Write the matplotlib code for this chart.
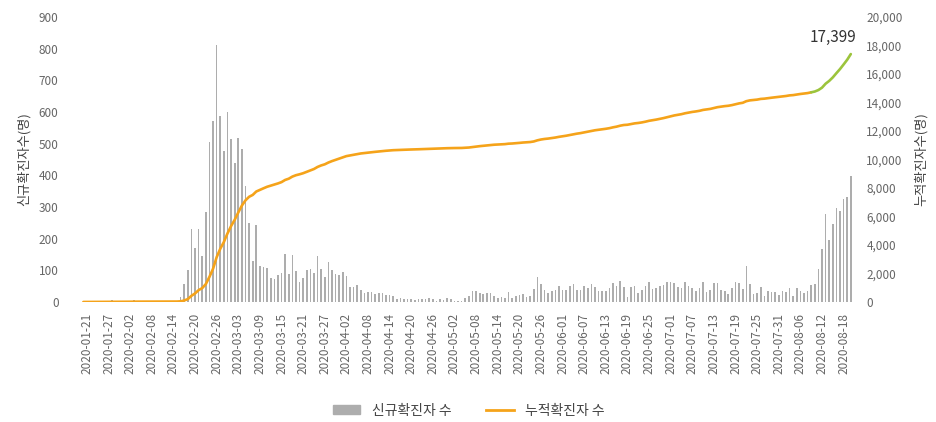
import numpy as np
import pandas as pd
import matplotlib
matplotlib.use("Agg")
import matplotlib.pyplot as plt
from matplotlib.patches import Patch
from matplotlib.lines import Line2D
from matplotlib.ticker import FuncFormatter

plt.rcParams['font.family'] = ['Noto Sans CJK KR', 'DejaVu Sans']

# 날짜 (2020-01-20 ~ 2020-08-20)
dates = pd.date_range("2020-01-20", "2020-08-20", freq="D").strftime("%Y-%m-%d").tolist()

# 신규확진자 수
new_cases = [
    0, 1, 0, 1, 1, 0, 0, 2, 5, 1, 3, 0, 1, 2, 5, 1, 0, 3, 0, 1,
    0, 0, 0, 0, 1, 1, 1, 15, 58, 100, 229, 169, 231, 144, 284, 505, 571, 813, 586, 476,
    600, 516, 438, 518, 483, 367, 248, 131, 242, 114, 110, 107, 76, 74, 84, 93, 152, 87, 147, 98,
    64, 76, 100, 104, 91, 146, 105, 78, 125, 101, 89, 86, 94, 81, 47, 47, 53, 39, 27, 30,
    32, 25, 27, 27, 22, 22, 18, 8, 13, 9, 11, 8, 6, 10, 10, 10, 14, 9, 4, 9,
    6, 13, 8, 3, 2, 4, 12, 18, 34, 35, 27, 26, 29, 27, 19, 13, 15, 13, 32, 12,
    20, 23, 25, 16, 19, 40, 79, 58, 39, 27, 35, 38, 49, 39, 39, 51, 57, 38, 38, 50,
    45, 56, 48, 34, 36, 34, 43, 59, 49, 67, 48, 17, 46, 51, 28, 39, 51, 62, 42, 43,
    50, 54, 63, 63, 61, 46, 44, 63, 49, 45, 35, 44, 62, 33, 39, 61, 60, 39, 34, 26,
    45, 63, 59, 41, 113, 58, 25, 28, 48, 18, 36, 31, 30, 23, 34, 33, 43, 20, 43, 36,
    28, 34, 54, 56, 103, 166, 279, 197, 246, 297, 288, 324, 332, 397,
]

# 누적확진자 수
total_cases = [
    1, 2, 2, 3, 4, 4, 4, 6, 11, 12, 15, 15, 16, 18, 23, 24, 24, 27, 27, 28,
    28, 28, 28, 28, 29, 30, 31, 46, 104, 204, 433, 602, 833, 977, 1261, 1766, 2337, 3150, 3736, 4212,
    4812, 5328, 5766, 6284, 6767, 7134, 7382, 7513, 7755, 7869, 7979, 8086, 8162, 8236, 8320, 8413, 8565, 8652, 8799, 8897,
    8961, 9037, 9137, 9241, 9332, 9478, 9583, 9661, 9786, 9887, 9976, 10062, 10156, 10237, 10284, 10331, 10384, 10423, 10450, 10480,
    10512, 10537, 10564, 10591, 10613, 10635, 10653, 10661, 10674, 10683, 10694, 10702, 10708, 10718, 10728, 10738, 10752, 10761, 10765, 10774,
    10780, 10793, 10801, 10804, 10806, 10810, 10822, 10840, 10874, 10909, 10936, 10962, 10991, 11018, 11037, 11050, 11065, 11078, 11110, 11122,
    11142, 11165, 11190, 11206, 11225, 11265, 11344, 11402, 11441, 11468, 11503, 11541, 11590, 11629, 11668, 11719, 11776, 11814, 11852, 11902,
    11947, 12003, 12051, 12085, 12121, 12155, 12198, 12257, 12306, 12373, 12421, 12438, 12484, 12535, 12563, 12602, 12653, 12715, 12757, 12800,
    12850, 12904, 12967, 13030, 13091, 13137, 13181, 13244, 13293, 13338, 13373, 13417, 13479, 13512, 13551, 13612, 13672, 13711, 13745, 13771,
    13816, 13879, 13938, 13979, 14092, 14150, 14175, 14203, 14251, 14269, 14305, 14336, 14366, 14389, 14423, 14456, 14499, 14519, 14562, 14598,
    14626, 14660, 14714, 14770, 14873, 15039, 15318, 15515, 15761, 16058, 16346, 16670, 17002, 17399,
]

tick_labels = dates[1::6]   # 2020-01-21 부터 6일 간격
green_from = "2020-08-09"   # 이후 구간은 녹색

x = np.arange(len(dates))
g = dates.index(green_from)

fig = plt.figure(figsize=(9.37, 4.22), dpi=100)
ax = fig.add_axes([0.0832, 0.2844, 0.8325, 0.6753])
ax2 = ax.twinx()

ax.bar(x, new_cases, width=0.45, color='#adadad', zorder=1)
ax2.plot(x[:g + 1], total_cases[:g + 1], color='#f5a31a', lw=1.9, solid_capstyle='round')
ax2.plot(x[g:], total_cases[g:], color='#9cc43c', lw=1.9, solid_capstyle='round')
ax2.text(x[-1] - 5, 18550, f"{total_cases[-1]:,}", ha='center', va='center',
         fontsize=11, color='#333333')

ax.set_xlim(-1.5, 215)
ax.set_ylim(0, 900)
ax2.set_ylim(0, 20000)
ax.set_yticks(range(0, 901, 100))
ax2.set_yticks(range(0, 20001, 2000))
ax2.yaxis.set_major_formatter(FuncFormatter(lambda v, p: f"{int(v):,}"))

ax.set_xticks(x[1::6])
ax.set_xticklabels(tick_labels, rotation=90, fontsize=9, color='#666666')

for a in (ax, ax2):
    for s in a.spines.values():
        s.set_visible(False)
    a.tick_params(length=0, colors='#666666', labelsize=8.5)
ax.tick_params(axis='y', pad=14)
ax.tick_params(axis='x', pad=8)
ax2.tick_params(axis='y', pad=6)

ax.set_ylabel("신규확진자수(명)", fontsize=9.5, color='#444444', labelpad=6)
ax2.set_ylabel("누적확진자수(명)", fontsize=9.5, color='#444444', rotation=90, labelpad=8)

handles = [Patch(color='#adadad'), Line2D([], [], color='#f5a31a', lw=2)]
fig.legend(handles, ["신규확진자 수", "누적확진자 수"], loc='center', bbox_to_anchor=(0.5, 0.027),
           ncol=2, frameon=False, fontsize=10, handlelength=2.0, handleheight=0.6,
           columnspacing=2.5, labelcolor='#444444')

fig.savefig("out.png", dpi=100)
